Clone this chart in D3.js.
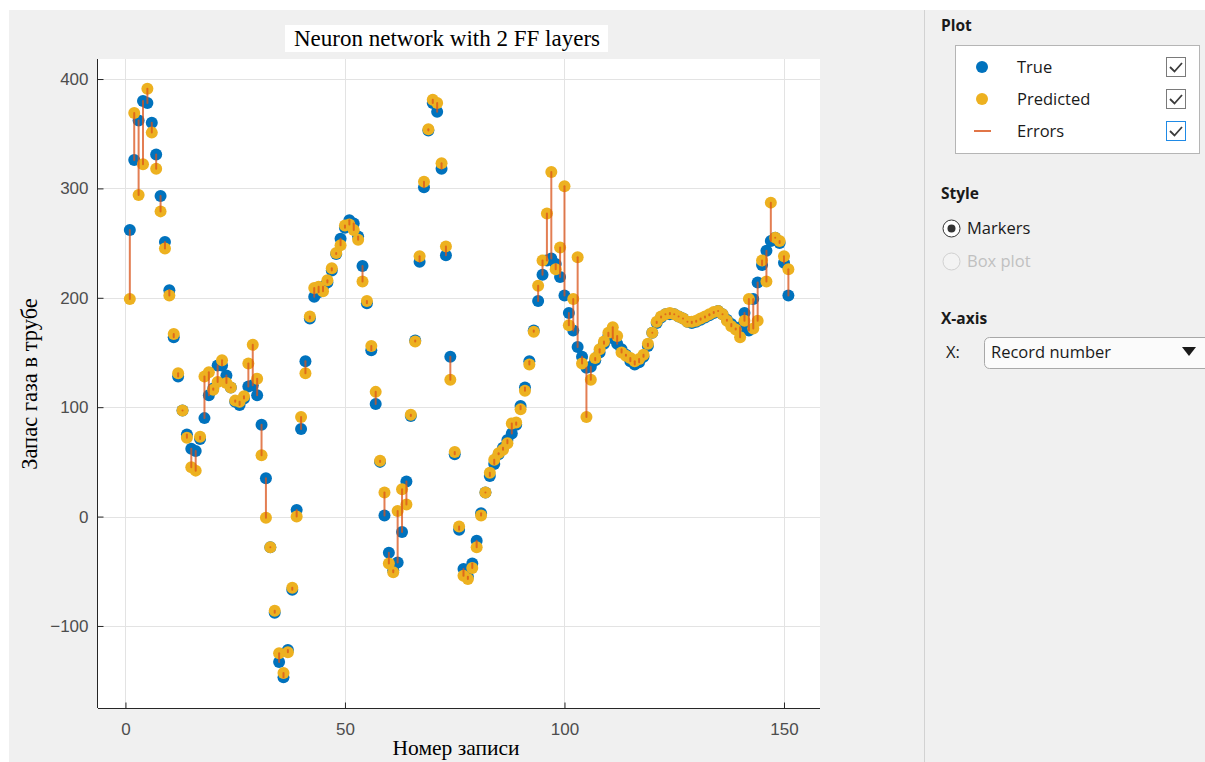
<!DOCTYPE html>
<html>
<head>
<meta charset="utf-8">
<script src="https://cdn.jsdelivr.net/npm/d3@7"></script>
<style>
  html, body { margin: 0; padding: 0; background: #ffffff; }
  svg { display: block; }
</style>
</head>
<body>
<svg id="fig" width="1205" height="762"></svg>
<script>
// Gas stock in pipe: true vs. predicted values per record (records 1..151)
const trueVals = [
  262, 326, 362, 380, 378, 360, 331, 293, 251, 207,
  164, 128, 97, 75, 62, 60, 71, 90, 111, 117,
  138, 138, 129, 118, 105, 102, 108, 119, 120, 111,
  84, 35, -28, -88, -133, -147, -122, -67, 6, 80,
  142, 181, 201, 205, 210, 214, 225, 240, 254, 264,
  271, 268, 256, 229, 195, 152, 103, 50, 1, -33,
  -49, -42, -14, 32, 92, 161, 233, 301, 353, 378,
  370, 318, 239, 146, 57, -12, -48, -55, -43, -22,
  3, 22, 37, 48, 57, 63, 70, 76, 84, 101,
  118, 142, 170, 197, 221, 234, 236, 231, 219, 202,
  186, 170, 155, 146, 136, 137, 143, 150, 158, 165,
  163, 158, 153, 148, 142, 139, 141, 146, 156, 168,
  177, 182, 185, 185, 185, 183, 181, 178, 177, 178,
  180, 182, 184, 186, 188, 185, 180, 176, 172, 173,
  186, 170, 199, 214, 230, 243, 252, 255, 250, 232,
  202
];
const predVals = [
  199, 369, 294, 322, 391, 351, 318, 279, 245, 202,
  167, 131, 97, 72, 45, 42, 73, 128, 132, 116,
  123, 143, 122, 118, 106, 105, 110, 140, 157, 126,
  56, -1, -28, -86, -125, -143, -124, -65, 0, 91,
  131, 183, 209, 210, 206, 216, 227, 241, 248, 266,
  267, 262, 253, 215, 197, 156, 114, 51, 22, -43,
  -51, 5, 25, 11, 93, 160, 238, 306, 354, 381,
  378, 323, 247, 125, 59, -9, -54, -57, -47, -28,
  1, 22, 40, 52, 58, 61, 67, 85, 86, 98,
  115, 139, 169, 211, 234, 277, 315, 226, 246, 302,
  175, 199, 237, 140, 91, 125, 145, 153, 160, 168,
  173, 165, 150, 147, 145, 142, 144, 148, 158, 168,
  178, 183, 185, 186, 185, 183, 181, 178, 178, 179,
  181, 183, 185, 187, 188, 185, 179, 174, 171, 164,
  179, 199, 172, 179, 234, 215, 287, 255, 252, 238,
  226
];
const xTicks = [0, 50, 100, 150];
const yTicks = [-100, 0, 100, 200, 300, 400];

const titleText = "Neuron network with 2 FF layers";
const xLabelText = "Номер записи";
const yLabelText = "Запас газа в трубе";

const legendItems = ["True", "Predicted", "Errors"];

const C_TRUE = "#0072BD", C_PRED = "#EDB120", C_ERR = "#D95319";

const records = trueVals.map((t, i) => ({ rec: i + 1, t: t, p: predVals[i] }));

const svg = d3.select("#fig");

// window background
svg.append("rect").attr("x", 9).attr("y", 10).attr("width", 1196).attr("height", 752).attr("fill", "#f0f0f0");

// plot frame
const L = 98, R = 820, T = 59, B = 708;
const x = d3.scaleLinear().domain([-6.25, 158.2]).range([L, R]);
const y = d3.scaleLinear().domain([-175, 418.3]).range([B, T]);

svg.append("rect").attr("x", L).attr("y", T).attr("width", R - L).attr("height", B - T).attr("fill", "#ffffff");

// grid
const grid = svg.append("g").attr("stroke", "#e3e3e3").attr("stroke-width", 1);
grid.selectAll("line.gx").data(xTicks).join("line")
  .attr("x1", d => Math.round(x(d)) + 0.5).attr("x2", d => Math.round(x(d)) + 0.5)
  .attr("y1", T).attr("y2", B);
grid.selectAll("line.gy").data(yTicks).join("line")
  .attr("y1", d => Math.round(y(d)) + 0.5).attr("y2", d => Math.round(y(d)) + 0.5)
  .attr("x1", L).attr("x2", R);

// axes (MATLAB-style inward ticks)
const fontAxis = "'Liberation Sans', Arial, Helvetica, sans-serif";
const xAxis = svg.append("g").attr("transform", `translate(0,${B + 0.5})`)
  .call(d3.axisBottom(x).tickValues(xTicks).tickSize(-6).tickPadding(14).tickSizeOuter(0));
const yAxis = svg.append("g").attr("transform", `translate(${L - 0.5},0)`)
  .call(d3.axisLeft(y).tickValues(yTicks).tickSize(-6).tickPadding(9).tickSizeOuter(0));
[xAxis, yAxis].forEach(g => {
  g.select(".domain").attr("stroke", "#262626");
  g.selectAll(".tick line").attr("stroke", "#262626");
  g.selectAll(".tick text").attr("fill", "#4d4d4d").attr("font-family", fontAxis).attr("font-size", 17);
});
xAxis.select(".domain").attr("d", `M${L},0H${R}`);
yAxis.select(".domain").attr("d", `M0,${T}V${B}`);

// markers: true first, predicted on top, then error segments
const marks = svg.append("g");
marks.selectAll("circle.t").data(records).join("circle")
  .attr("cx", d => x(d.rec)).attr("cy", d => y(d.t)).attr("r", 6)
  .attr("fill", C_TRUE);
marks.selectAll("circle.p").data(records).join("circle")
  .attr("cx", d => x(d.rec)).attr("cy", d => y(d.p)).attr("r", 6)
  .attr("fill", C_PRED);
marks.selectAll("line.e").data(records).join("line")
  .attr("x1", d => x(d.rec)).attr("x2", d => x(d.rec))
  .attr("y1", d => y(d.t)).attr("y2", d => y(d.p))
  .attr("stroke", C_ERR).attr("stroke-opacity", 0.75).attr("stroke-width", 2)
  .attr("stroke-linecap", "round");

// title with white backing
const fontSerif = "'Liberation Serif', 'Times New Roman', serif";
svg.append("rect").attr("x", 285).attr("y", 25).attr("width", 323).attr("height", 27).attr("fill", "#ffffff");
svg.append("text").attr("x", 447).attr("y", 46).attr("text-anchor", "middle")
  .attr("font-family", fontSerif).attr("font-size", 23).attr("fill", "#000")
  .text(titleText);

// axis labels
svg.append("text").attr("x", 456).attr("y", 755).attr("text-anchor", "middle")
  .attr("font-family", fontSerif).attr("font-size", 21.5).attr("fill", "#000")
  .text(xLabelText);
svg.append("text").attr("transform", "translate(37,384) rotate(-90)").attr("text-anchor", "middle")
  .attr("font-family", fontSerif).attr("font-size", 22.5).attr("fill", "#000")
  .text(yLabelText);

// side panel
const fontUI = "'Open Sans', 'Noto Sans', Arial, sans-serif";
svg.append("line").attr("x1", 924.5).attr("x2", 924.5).attr("y1", 10).attr("y2", 762)
  .attr("stroke", "#d2d2d2");

const panel = svg.append("g").attr("font-family", fontUI);
panel.append("text").attr("x", 941).attr("y", 31).attr("font-size", 15.5).attr("font-weight", "bold").attr("fill", "#1a1a1a").text("Plot");
panel.append("rect").attr("x", 955.5).attr("y", 45.5).attr("width", 244).attr("height", 108)
  .attr("fill", "#ffffff").attr("stroke", "#b5b5b5");

const rowY = [67, 99, 131];
legendItems.forEach((name, i) => {
  const cy = rowY[i];
  if (i === 0) panel.append("circle").attr("cx", 982).attr("cy", cy).attr("r", 6).attr("fill", C_TRUE);
  if (i === 1) panel.append("circle").attr("cx", 982).attr("cy", cy).attr("r", 6).attr("fill", C_PRED);
  if (i === 2) panel.append("line").attr("x1", 974).attr("x2", 991).attr("y1", cy).attr("y2", cy)
    .attr("stroke", C_ERR).attr("stroke-opacity", 0.8).attr("stroke-width", 2);
  panel.append("text").attr("x", 1017).attr("y", cy + 6).attr("font-size", 16.5).attr("fill", "#1a1a1a").text(name);
  panel.append("rect").attr("x", 1166.5).attr("y", cy - 9.5).attr("width", 19).attr("height", 19)
    .attr("fill", "#ffffff").attr("stroke", i === 2 ? "#1f8ae6" : "#7a7a7a").attr("stroke-width", 1);
  panel.append("path").attr("d", `M${1170},${cy} L${1174.5},${cy + 4.5} L${1182},${cy - 4}`)
    .attr("fill", "none").attr("stroke", "#3c3c3c").attr("stroke-width", 1.8);
});

panel.append("text").attr("x", 941).attr("y", 199).attr("font-size", 15.5).attr("font-weight", "bold").attr("fill", "#1a1a1a").text("Style");
panel.append("circle").attr("cx", 951.5).attr("cy", 228.5).attr("r", 8.5).attr("fill", "#ffffff").attr("stroke", "#333").attr("stroke-width", 1);
panel.append("circle").attr("cx", 951.5).attr("cy", 228.5).attr("r", 4).attr("fill", "#333");
panel.append("text").attr("x", 967).attr("y", 234).attr("font-size", 16.5).attr("fill", "#1a1a1a").text("Markers");
panel.append("circle").attr("cx", 951.5).attr("cy", 261.5).attr("r", 8.5).attr("fill", "#f3f3f3").attr("stroke", "#d0d0d0").attr("stroke-width", 1);
panel.append("text").attr("x", 967).attr("y", 267).attr("font-size", 16.5).attr("fill", "#c0c0c0").text("Box plot");

panel.append("text").attr("x", 941).attr("y", 324).attr("font-size", 15.5).attr("font-weight", "bold").attr("fill", "#1a1a1a").text("X-axis");
panel.append("text").attr("x", 946).attr("y", 358).attr("font-size", 16.5).attr("fill", "#1a1a1a").text("X:");
panel.append("rect").attr("x", 984.5).attr("y", 337.5).attr("width", 230).attr("height", 31).attr("rx", 5)
  .attr("fill", "#fbfbfb").attr("stroke", "#a8a8a8");
panel.append("text").attr("x", 991).attr("y", 358).attr("font-size", 16.5).attr("fill", "#1a1a1a").text("Record number");
panel.append("path").attr("d", "M1182,347 L1196,347 L1189,356 Z").attr("fill", "#1a1a1a");
</script>
</body>
</html>
